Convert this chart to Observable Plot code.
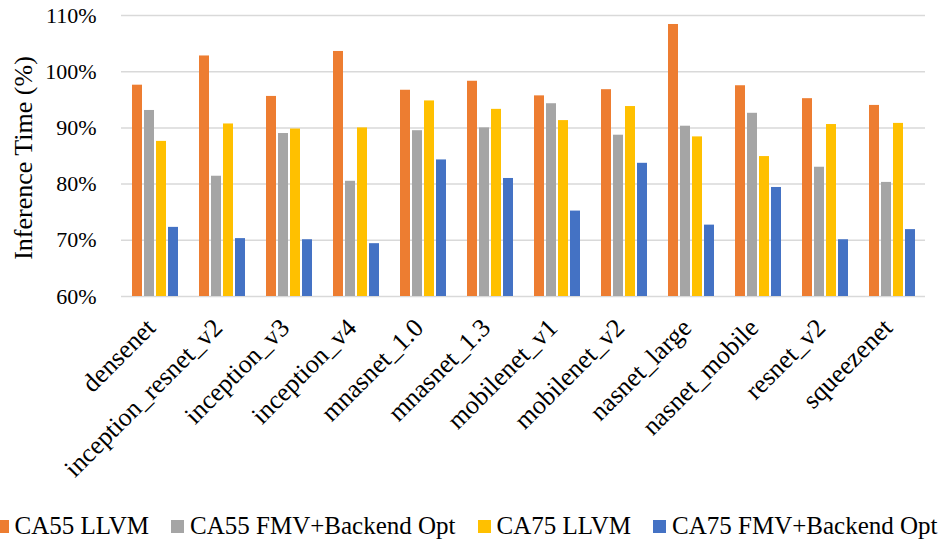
<!DOCTYPE html>
<html>
<head>
<meta charset="utf-8">
<script src="https://cdn.jsdelivr.net/npm/d3@7"></script>
<script src="https://cdn.jsdelivr.net/npm/@observablehq/plot@0.6"></script>
<style>
  html, body { margin: 0; padding: 0; background: #fff; }
  body { width: 947px; height: 541px; position: relative; overflow: hidden; font-family: "Liberation Serif", serif; }
  svg text { font-family: "Liberation Serif", serif !important; }
  #legend { position: absolute; left: -7px; top: 510px; width: 947px; height: 32px; display: flex; justify-content: center; align-items: center; font-size: 25px; color: #000; white-space: nowrap; }
  .item { display: flex; align-items: center; margin: 0 11px; }
  .sw { width: 13px; height: 13px; margin-right: 6px; }
</style>
</head>
<body>
<div id="chart"></div>
<div id="legend"></div>
<script>
const models = ["densenet","inception_resnet_v2","inception_v3","inception_v4","mnasnet_1.0","mnasnet_1.3","mobilenet_v1","mobilenet_v2","nasnet_large","nasnet_mobile","resnet_v2","squeezenet"];
const seriesNames = ["CA55 LLVM","CA55 FMV+Backend Opt","CA75 LLVM","CA75 FMV+Backend Opt"];
const seriesColors = ["#ED7D31","#A5A5A5","#FFC000","#4472C4"];
const ca55Llvm = [97.6,102.8,95.6,103.6,96.7,98.3,95.7,96.8,108.4,97.5,95.2,94.0];
const ca55Fmv  = [93.1,81.4,89.0,80.5,89.5,90.0,94.3,88.7,90.3,92.6,83.0,80.3];
const ca75Llvm = [87.6,90.7,89.8,90.0,94.8,93.3,91.3,93.8,88.4,84.9,90.6,90.8];
const ca75Fmv  = [72.3,70.3,70.1,69.4,84.3,81.0,75.2,83.7,72.7,79.4,70.1,71.9];
const yTicks = [60,70,80,90,100,110];
const yMin = 60, yMax = 110;
const yTitle = "Inference Time (%)";

const seriesValues = [ca55Llvm, ca55Fmv, ca75Llvm, ca75Fmv];
const data = [];
models.forEach((m, i) => seriesNames.forEach((s, j) => data.push({model: m, series: s, value: seriesValues[j][i]})));

const serif = '"Liberation Serif", serif';
const H = 505;
const chart = Plot.plot({
  width: 947,
  height: H,
  marginLeft: 120,
  marginRight: 22,
  marginTop: 15,
  marginBottom: H - 296,
  style: {fontFamily: serif, color: "#000", background: "#fff", overflow: "visible"},
  fx: {domain: models, paddingInner: 0, paddingOuter: 0, label: null},
  x: {domain: seriesNames, paddingInner: 0.17, paddingOuter: 0.857, axis: null},
  y: {domain: [yMin, yMax]},
  color: {domain: seriesNames, range: seriesColors},
  marks: [
    Plot.gridY(yTicks, {stroke: "#d9d9d9", strokeOpacity: 1, strokeWidth: 1.5}),
    Plot.barY(data, {fx: "model", x: "series", y1: yMin, y2: "value", fill: "series"}),
    Plot.axisY(yTicks, {tickFormat: d => d + "%", tickSize: 0, tickPadding: 25, fontSize: 22, fontFamily: serif, label: null}),
    Plot.text([{m: models[0], t: yTitle}], {fx: "m", text: "t", frameAnchor: "left", textAnchor: "middle", rotate: -90, dx: -98, dy: 2, fontSize: 26, fontFamily: serif, fill: "#000"}),
    Plot.axisFx({anchor: "bottom", tickRotate: -45, tickSize: 0, tickPadding: 27, dx: -4, fontSize: 26, fontFamily: serif, label: null})
  ]
});
document.getElementById("chart").appendChild(chart);
chart.querySelectorAll("text").forEach(t => t.setAttribute("fill", "#000"));

const legend = document.getElementById("legend");
seriesNames.forEach((s, i) => {
  const item = document.createElement("div");
  item.className = "item";
  const sw = document.createElement("span");
  sw.className = "sw";
  sw.style.background = seriesColors[i];
  const lab = document.createElement("span");
  lab.textContent = s;
  item.appendChild(sw);
  item.appendChild(lab);
  legend.appendChild(item);
});
</script>
</body>
</html>
